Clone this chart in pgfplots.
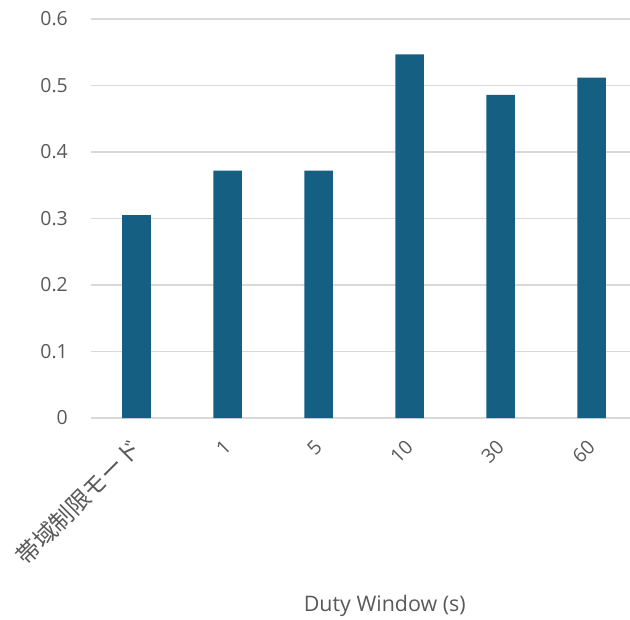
\documentclass[border=0pt]{standalone}
\usepackage{fontspec}
\setmainfont{Open Sans}
\newfontfamily\cjk{Noto Sans CJK JP}
\usepackage{pgfplots}
\pgfplotsset{compat=1.18}
\definecolor{barblue}{HTML}{156082}
\definecolor{gridgray}{HTML}{D9D9D9}
\definecolor{txtgray}{HTML}{595959}
\begin{document}
\begin{tikzpicture}
\begin{axis}[
  at={(0,0)}, anchor=south west,
  scale only axis, width=539bp, height=399bp,
  xmin=-0.5, xmax=5.423, ymin=0, ymax=0.6,
  ytick={0,0.1,0.2,0.3,0.4,0.5,0.6},
  xtick={0,1,2,3,4,5},
  xticklabels={{\cjk\fontsize{23.5}{28}\selectfont 帯域制限モード},1,5,10,30,60},
  axis line style={draw=none},
  major tick style={draw=none},
  ymajorgrids,
  major grid style={gridgray, line width=1.3bp},
  /pgf/number format/assume math mode=true,
  ticklabel style={font=\fontsize{19.5}{23}\selectfont, text=txtgray},
  yticklabel style={anchor=east, inner sep=0pt, xshift=-23bp},
  xticklabel shift=26bp,
  xticklabel style={rotate=45, anchor=east, inner sep=0pt},
  xlabel={Duty Window (s)},
  xlabel style={at={(axis description cs:0.545,0)}, anchor=center, yshift=-188bp,
    font=\fontsize{21.5}{25}\selectfont, text=txtgray},
]
\addplot[ybar, bar width=28.5bp, fill=barblue, draw=none]
  coordinates {(0,0.305) (1,0.372) (2,0.372) (3,0.547) (4,0.486) (5,0.512)};
\end{axis}
\pgfresetboundingbox
\path[use as bounding box] (-91bp,-202bp) rectangle (539bp,418bp);
\end{tikzpicture}
\end{document}
